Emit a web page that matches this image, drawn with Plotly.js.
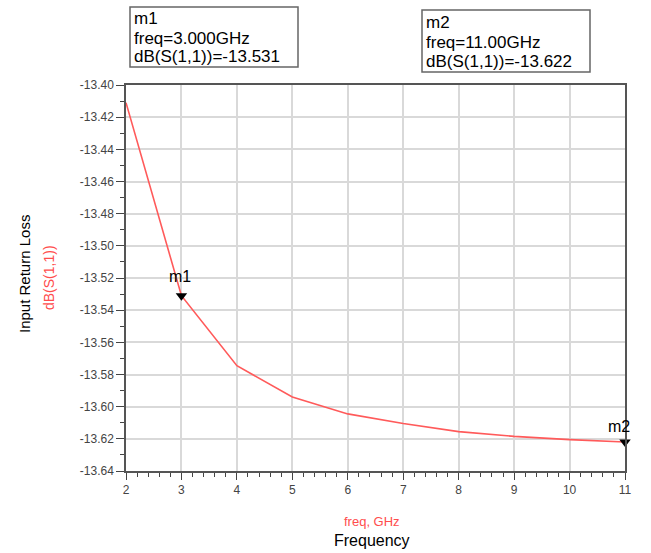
<!DOCTYPE html>
<html>
<head>
<meta charset="utf-8">
<script src="https://cdn.plot.ly/plotly-3.0.1.min.js"></script>
<style>html,body{margin:0;padding:0;background:#fff;}#chart{width:651px;height:553px;}</style>
</head>
<body>
<div id="chart"></div>
<script>
// Data
const freqGHz = [2, 3, 4, 5, 6, 7, 8, 9, 10, 11];
const dBS11 = [-13.411, -13.531, -13.5745, -13.594, -13.6045, -13.6105, -13.6155, -13.6185, -13.6205, -13.622];
const markerNames = ['m1', 'm2'];
const markerFreq = [3, 11];
const markerVal = [-13.531, -13.622];
const markerFreqText = ['freq=3.000GHz', 'freq=11.00GHz'];
const markerValText = ['dB(S(1,1))=-13.531', 'dB(S(1,1))=-13.622'];
const yTicks = [-13.40, -13.42, -13.44, -13.46, -13.48, -13.50, -13.52, -13.54, -13.56, -13.58, -13.60, -13.62, -13.64];
const yTickText = ['-13.40', '-13.42', '-13.44', '-13.46', '-13.48', '-13.50', '-13.52', '-13.54', '-13.56', '-13.58', '-13.60', '-13.62', '-13.64'];

const W = 651, H = 553;
const L = 126, R = 625, T = 85, B = 471;
const px = x => (x - L) / (R - L);
const py = y => (B - y) / (B - T);
const FONT = 'Liberation Sans, Arial, sans-serif';

const textFont = {family: FONT, size: 17, color: '#000'};

const traces = [
  {x: freqGHz, y: dBS11, mode: 'lines', line: {color: '#ff5a5a', width: 1.6}, hoverinfo: 'x+y'},
  {x: markerFreq, y: markerVal, mode: 'markers', marker: {symbol: 'triangle-down', size: 10, color: '#000'}, cliponaxis: false}
];

// marker boxes (pixel positions)
const boxes = [
  {x0: 130, x1: 298, y0: 7, y1: 67, lines: [18, 38, 57], tx: 132},
  {x0: 422, x1: 590, y0: 10, y1: 72, lines: [22, 42, 61], tx: 424}
];
const shapes = boxes.map(b => ({
  type: 'rect', xref: 'paper', yref: 'paper',
  x0: px(b.x0), x1: px(b.x1), y0: py(b.y1), y1: py(b.y0),
  line: {color: '#666', width: 1.5}, fillcolor: 'rgba(0,0,0,0)'
}));
const annotations = [];
boxes.forEach((b, i) => {
  const texts = [markerNames[i], markerFreqText[i], markerValText[i]];
  texts.forEach((t, j) => annotations.push({
    xref: 'paper', yref: 'paper', x: px(b.tx), y: py(b.lines[j]),
    xanchor: 'left', yanchor: 'middle', text: t, showarrow: false, font: textFont
  }));
});
// marker labels on the curve
annotations.push({x: markerFreq[0], y: markerVal[0], text: markerNames[0], showarrow: false,
  xanchor: 'center', yanchor: 'middle', yshift: 19, xshift: -1, font: {family: FONT, size: 16, color: '#000'}});
annotations.push({x: markerFreq[1], y: markerVal[1], text: markerNames[1], showarrow: false,
  xanchor: 'center', yanchor: 'middle', yshift: 16, xshift: -6, font: {family: FONT, size: 16, color: '#000'}});
// axis titles
annotations.push({xref: 'paper', yref: 'paper', x: px(24), y: py(274), text: 'Input Return Loss', textangle: -90,
  showarrow: false, xanchor: 'center', yanchor: 'middle', font: {family: FONT, size: 15, color: '#000'}});
annotations.push({xref: 'paper', yref: 'paper', x: px(49), y: py(278), text: 'dB(S(1,1))', textangle: -90,
  showarrow: false, xanchor: 'center', yanchor: 'middle', font: {family: FONT, size: 14, color: '#ff4d4d'}});
annotations.push({xref: 'paper', yref: 'paper', x: px(372), y: py(521), text: 'freq, GHz',
  showarrow: false, xanchor: 'center', yanchor: 'middle', font: {family: FONT, size: 13, color: '#ff4d4d'}});
annotations.push({xref: 'paper', yref: 'paper', x: px(372), y: py(540), text: 'Frequency',
  showarrow: false, xanchor: 'center', yanchor: 'middle', font: {family: FONT, size: 16, color: '#000'}});

const layout = {
  width: W, height: H,
  margin: {l: L, r: W - R, t: T, b: H - B},
  paper_bgcolor: '#fff', plot_bgcolor: '#fff',
  showlegend: false,
  xaxis: {
    range: [2, 11], dtick: 1, ticks: 'outside', ticklen: 7, tickcolor: '#444', tickwidth: 1,
    showline: true, mirror: true, linecolor: '#555', linewidth: 1.5,
    showgrid: true, gridcolor: '#d9d9d9', gridwidth: 1.5, zeroline: false,
    tickfont: {family: FONT, size: 12, color: '#444'},
    minor: {dtick: 0.2, ticks: 'outside', ticklen: 4, tickcolor: '#444'}
  },
  yaxis: {
    range: [-13.64, -13.40], tickvals: yTicks, ticktext: yTickText, ticks: 'outside', ticklen: 8, tickcolor: '#444', tickwidth: 1,
    showline: true, mirror: true, linecolor: '#555', linewidth: 1.5,
    showgrid: true, gridcolor: '#d9d9d9', gridwidth: 1.5, zeroline: false,
    tickfont: {family: FONT, size: 12, color: '#444'},
    minor: {dtick: 0.01, ticks: 'outside', ticklen: 4, tickcolor: '#444'}
  },
  shapes: shapes,
  annotations: annotations
};

Plotly.newPlot('chart', traces, layout, {displayModeBar: false});
</script>
</body>
</html>
